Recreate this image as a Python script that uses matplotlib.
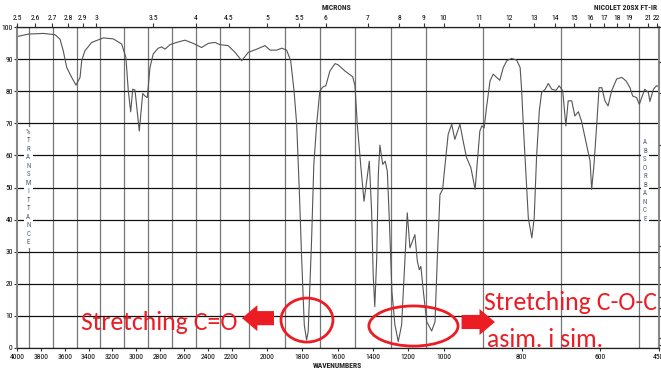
import numpy as np
import matplotlib.pyplot as plt
from matplotlib.patches import Ellipse, FancyArrow

# IR spectrum (wavenumber cm-1, %T)
wavenumber = [4000, 3905, 3779, 3681, 3639, 3612, 3583, 3541, 3505, 3471, 3457, 3430,
              3373, 3276, 3192, 3122, 3086, 3066, 3046, 3029, 3010, 2974, 2945, 2926,
              2907, 2884, 2857, 2815, 2786, 2758, 2716, 2660, 2591, 2521, 2451, 2395,
              2339, 2297, 2228, 2180, 2142, 2105, 2057, 2010, 1982, 1944, 1916, 1888,
              1865, 1846, 1831, 1816, 1803, 1788, 1775, 1766, 1747, 1734, 1718, 1700,
              1681, 1666, 1643, 1614, 1596, 1558, 1514, 1501, 1488, 1469, 1450, 1435,
              1420, 1407, 1398, 1389, 1378, 1369, 1360, 1344, 1330, 1318, 1307, 1292,
              1275, 1256, 1237, 1218, 1205, 1190, 1162, 1148, 1137, 1128, 1114, 1095,
              1067, 1048, 1035, 1020, 1005, 996, 988, 979, 971, 958, 948, 941, 930,
              919, 914, 907, 902, 896, 890, 881, 873, 864, 856, 847, 838, 826, 813,
              804, 800, 796, 789, 783, 774, 768, 762, 755, 749, 740, 732, 723, 712,
              704, 695, 692, 687, 681, 672, 664, 655, 647, 634, 625, 621, 615, 608,
              602, 595, 587, 579, 570, 557, 544, 533, 523, 516, 506, 499, 493, 485,
              476, 472, 463, 455, 450]
transmittance = [97.0, 97.8, 98.0, 97.6, 96.2, 92.6, 87.4, 84.3, 81.9, 84.3, 89.5, 92.6,
                 95.2, 96.6, 96.3, 94.7, 90.5, 80.1, 73.6, 80.6, 80.4, 67.6, 79.3, 78.5,
                 78.0, 87.4, 91.6, 93.4, 93.8, 93.1, 94.5, 95.2, 95.9, 94.9, 93.6, 94.9,
                 95.2, 94.5, 94.2, 92.1, 89.5, 92.1, 93.1, 94.2, 92.8, 92.8, 93.4, 92.8,
                 89.5, 80.1, 69.7, 48.8, 28.1, 7.2, 2.5, 5.1, 33.2, 57.2, 69.7, 80.1,
                 81.4, 81.7, 86.3, 88.6, 88.2, 86.3, 84.5, 81.7, 69.7, 57.2, 45.7, 52.0,
                 58.2, 42.6, 22.8, 12.9, 28.0, 54.1, 63.2, 57.2, 58.2, 55.1, 40.5, 17.6,
                 7.2, 2.0, 7.2, 28.0, 42.1, 31.2, 35.3, 27.0, 24.4, 25.4, 17.6, 8.2,
                 5.3, 8.2, 28.0, 47.8, 49.4, 57.2, 66.6, 69.7, 65.0, 69.7, 63.4, 59.3, 56.2,
                 49.4, 57.2, 67.6, 69.2, 68.6, 74.9, 83.2, 85.3, 84.3, 83.4, 87.4, 89.5, 90.2, 89.7,
                 87.4, 80.1, 69.7, 54.1, 40.5, 34.3, 40.5, 59.3, 73.8, 79.6, 80.6, 82.4, 80.6, 80.3,
                 81.7, 80.1, 75.9, 69.2, 77.0, 77.0, 72.3, 73.6, 70.7, 63.4, 58.2, 49.4, 57.2, 69.7,
                 81.1, 81.1, 77.0, 75.4, 80.1, 83.8, 84.3, 83.2, 81.1, 78.5, 78.0, 75.9, 78.0, 80.6,
                 79.6, 76.8, 80.6, 81.7, 81.5]

wn_ticks = [4000, 3800, 3600, 3400, 3200, 3000, 2800, 2600, 2400, 2200,
            2000, 1800, 1600, 1400, 1200, 1000, 800, 600, 450]
micron_labels = ['2.5', '2.6', '2.7', '2.8', '2.9', '3', '3.5', '4', '4.5', '5', '5.5', '6',
                 '7', '8', '9', '10', '11', '12', '13', '14', '15', '16', '17', '18', '19', '21', '22']
absorb_labels = ['0', '.05', '.1', '.2', '.3', '.4', '.5', '.6', '.7', '.8', '.9', '1', '1.5', '2']

# chart paper: x scale changes at 2200 and 1000 cm-1
wn_break = [450, 1000, 2200, 4000]
px_break = [0, 215, 427, 641.5]

def fwd(w):
    return np.interp(np.asarray(w, float), wn_break, px_break)

def inv(u):
    return np.interp(np.asarray(u, float), px_break, wn_break)

narrow = ['Roboto Condensed', 'DejaVu Sans']
red = '#ec1c24'
ann = ['Carlito', 'DejaVu Sans']

fig = plt.figure(figsize=(6.61, 3.71), dpi=100)
ax = fig.add_axes([17 / 661, 1 - 348 / 371, 641.5 / 661, 321 / 371])
ax.set_xscale('function', functions=(fwd, inv))
ax.set_xlim(4000, 450)
ax.set_ylim(0, 100)

ax.plot(wavenumber, transmittance, color='#555555', lw=0.8, zorder=2)

ax.set_xticks(wn_ticks)
ax.set_xticklabels([str(t) for t in wn_ticks], family=narrow, fontsize=5.5)
ax.set_xticks(np.arange(500, 4000, 100), minor=True)
ax.set_yticks(np.arange(0, 101, 10))
ax.set_yticklabels([str(t) for t in range(0, 101, 10)], family=narrow, fontsize=5.5)
ax.tick_params(axis='x', which='major', length=2, pad=2.5, color='#333333')
ax.tick_params(axis='x', which='minor', length=0)
ax.tick_params(axis='y', length=2, pad=1, color='#333333')
ax.grid(which='minor', axis='x', color='#777777', lw=0.9)
ax.grid(which='major', axis='y', color='#111111', lw=0.9)

for side in ['left', 'right']:
    ax.spines[side].set_color('#888888')
    ax.spines[side].set_linewidth(1.5)
for side in ['top', 'bottom']:
    ax.spines[side].set_color('#222222')
    ax.spines[side].set_linewidth(0.9)

# microns on the top
top = ax.twiny()
top.set_xscale('function', functions=(fwd, inv))
top.set_xlim(4000, 450)
top.set_xticks([10000 / float(m) for m in micron_labels])
top.set_xticklabels(micron_labels, family=narrow, fontsize=5.5)
top.tick_params(axis='x', length=3, pad=1, color='#333333')
top.set_xticks([], minor=True)

# absorbance on the right (mostly cut off by the page edge)
right = ax.twinx()
right.set_ylim(0, 100)
right.set_yticks([100 * 10 ** (-float(a)) for a in absorb_labels])
right.set_yticklabels(absorb_labels, family=narrow, fontsize=5.5, color='#6a4a4a')
right.tick_params(axis='y', length=3, pad=1, color='#333333')
for s in right.spines.values():
    s.set_visible(False)
for s in top.spines.values():
    s.set_visible(False)

fig.text(337 / 661, 1 - 7 / 371, 'MICRONS', ha='center', va='center', fontsize=5.5,
         weight='bold', family=narrow, color='#222222')
fig.text(657 / 661, 1 - 7 / 371, 'NICOLET 20SX FT-IR', ha='right', va='center', fontsize=5.5,
         weight='bold', family=narrow, color='#222222')
fig.text(337 / 661, 1 - 366 / 371, 'WAVENUMBERS', ha='center', va='center', fontsize=5.5,
         weight='bold', family=narrow, color='#222222')

ax.text(0.0176, 0.50, '\n'.join('%TRANSMITTANCE'), transform=ax.transAxes, ha='center',
        va='center', fontsize=5, family=narrow, color='#505a70', linespacing=1.3,
        bbox=dict(fc='white', ec='none', pad=1.5), zorder=3)
ax.text(0.979, 0.52, '\n'.join('ABSORBANCE'), transform=ax.transAxes, ha='center',
        va='center', fontsize=5, family=narrow, color='#505a70', linespacing=1.3,
        bbox=dict(fc='white', ec='none', pad=1.5), zorder=3)

# annotations
ax.add_patch(Ellipse((0.452, 0.087), 0.081, 0.137, transform=ax.transAxes, fill=False,
                     ec=red, lw=2, clip_on=False, zorder=5))
ax.add_patch(Ellipse((0.618, 0.0685), 0.139, 0.125, transform=ax.transAxes, fill=False,
                     ec=red, lw=2, clip_on=False, zorder=5))
ax.add_patch(FancyArrow(0.4006, 0.093, -0.0499, 0, width=0.044, head_width=0.081,
                        head_length=0.024, length_includes_head=True, transform=ax.transAxes,
                        color=red, lw=0, clip_on=False, zorder=5))
ax.add_patch(FancyArrow(0.693, 0.081, 0.052, 0, width=0.044, head_width=0.081,
                        head_length=0.024, length_includes_head=True, transform=ax.transAxes,
                        color=red, lw=0, clip_on=False, zorder=5))
ax.text(0.343, 0.056, 'Stretching C=O', transform=ax.transAxes, ha='right', va='baseline',
        fontsize=18.5, family=ann, color=red, zorder=5)
ax.text(0.728, 0.118, 'Stretching C-O-C', transform=ax.transAxes, ha='left', va='baseline',
        fontsize=18.5, family=ann, color=red, zorder=5)
ax.text(0.733, 0.003, 'asim. i sim.', transform=ax.transAxes, ha='left', va='baseline',
        fontsize=18.5, family=ann, color=red, zorder=5)

fig.savefig('out.png', dpi=100)
